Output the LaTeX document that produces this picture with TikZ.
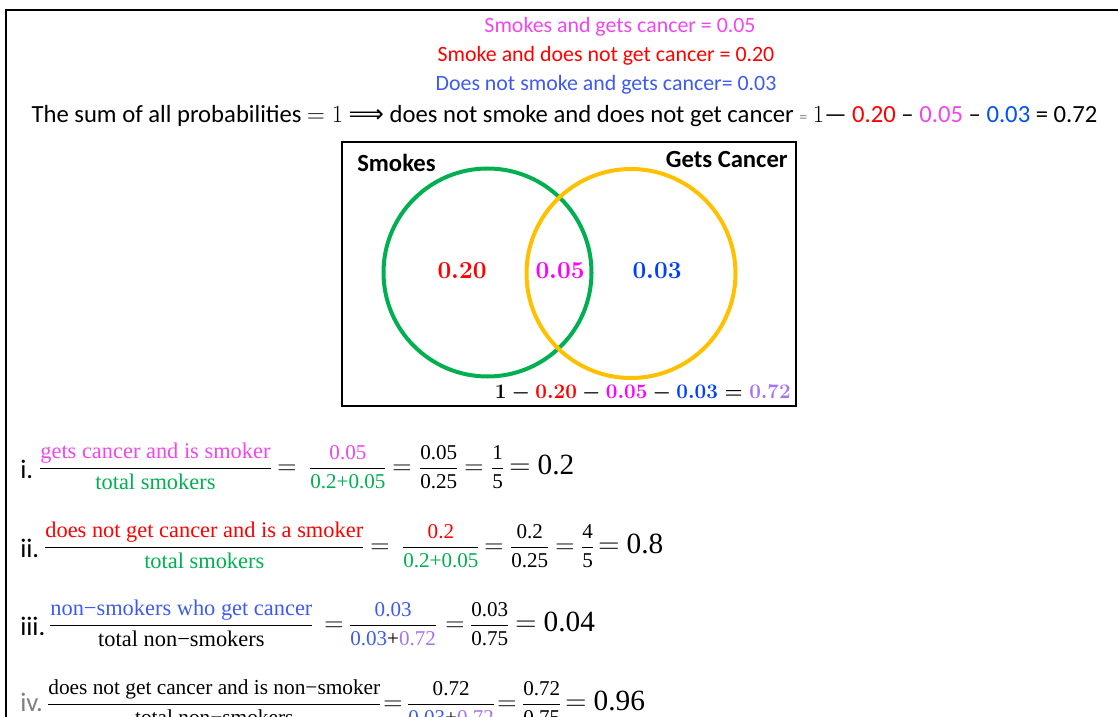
\RequirePackage{fix-cm}
\documentclass[tikz,border=0pt]{standalone}
\usepackage{amsmath}
\usepackage{fontspec}
\setmainfont{Carlito}
\newfontfamily\serifface{Liberation Serif}
\newfontfamily\symface{DejaVu Sans}
\usepackage{tikz}
\usetikzlibrary{positioning}
\definecolor{pinkish}{HTML}{F046F0}
\definecolor{vmag}{HTML}{FF00FF}
\definecolor{lineblue}{HTML}{3D5AF1}
\definecolor{vivblue}{HTML}{0050FF}
\definecolor{vblue}{HTML}{0040FF}
\definecolor{grn}{HTML}{00B050}
\definecolor{gold}{HTML}{FFC000}
\definecolor{lilac}{HTML}{A673F2}
\definecolor{eqgrey}{HTML}{8C8C8C}
\definecolor{labgrey}{HTML}{7F7F7F}
\newcommand{\probfrac}[2]{\genfrac{}{}{1.1pt}{0}{\text{#1}}{\text{#2}}}

\begin{document}
\begin{tikzpicture}[x=0.75pt,y=-0.75pt,
  headline/.style={font=\fontsize{#1}{20}\selectfont,inner sep=0pt},
  headline/.default=16.4,
  setname/.style={font=\bfseries\fontsize{18.5}{22}\selectfont,inner sep=0pt},
  region/.style={font=\fontsize{#1}{22}\selectfont\boldmath,inner sep=0pt},
  region/.default=18.3,
  ring/.style={line width=3pt},
  rowlabel/.style={font=\fontsize{20}{24}\selectfont,anchor=base west,inner sep=0pt},
  ratio/.style={font=\serifface\fontsize{#1}{20}\selectfont,anchor=base west,inner sep=0pt},
  ratio/.default=16.8,
  eqsign/.style={font=\fontsize{20}{24}\selectfont,anchor=base,inner sep=0pt},
  result/.style={font=\serifface\fontsize{22}{26}\selectfont,anchor=base west,inner sep=0pt}
]
\useasboundingbox (0,0) rectangle (1118,717);
\clip (0,0) rectangle (1118,717);
\draw[line width=1.5pt] (6,725) -- (6,10) -- (1125,10);

\node[headline,text=pinkish] (given1) at (620,27) {Smokes and gets cancer = 0.05};
\node[headline,text=red] (given2) at (606,56) {Smoke and does not get cancer = 0.20};
\node[headline,text=lineblue] (given3) at (606,85) {Does not smoke and gets cancer= 0.03};
\node[headline=18.5] (total) at (564.5,116) {The sum of all probabilities $=1$ {\symface ⟹} does not smoke and does not get cancer {\color{eqgrey}\fontsize{12}{14}\selectfont=} $1$— {\color{red}0.20} – {\color{pinkish}0.05} – {\color{vivblue}0.03} = 0.72};

\draw[line width=2.2pt] (342,142) rectangle (796,406);
\draw[ring,grn] (487.5,272.5) circle (104);
\draw[ring,gold] (631,273.5) circle (104.5);
\node[setname,anchor=west] (smokes) at (357,163) {Smokes};
\node[setname,anchor=east] (cancer) at (788,160) {Gets Cancer};
\node[region,text=red] (only) at (462,271) {$0.20$};
\node[region,text=vmag] (both) at (560,271) {$0.05$};
\node[region,text=vblue] (nonly) at (657,271) {$0.03$};
\node[region=15.5,anchor=east] (rest) at (791,393) {$1-{\color{red}0.20}-{\color{vmag}0.05}-{\color{vblue}0.03}={\color{lilac}0.72}$};

\node[rowlabel] (lab1) at (20,478) {i.};
\node[ratio] (q1a) at (38.5,474) {$\probfrac{\color{pinkish}gets cancer and is smoker}{\color{grn}total smokers}$};
\node[eqsign] (q1e1) at (287,474) {$=$};
\node[ratio=15.8] (q1b) at (308.5,474) {$\probfrac{\color{pinkish}0.05}{\color{grn}0.2+0.05}$};
\node[eqsign] (q1e2) at (402,474) {$=$};
\node[ratio=15.8] (q1c) at (418.5,474) {$\probfrac{0.05}{0.25}$};
\node[eqsign] (q1e3) at (474,474) {$=$};
\node[ratio=15.8] (q1d) at (490.5,474) {$\probfrac{1}{5}$};
\node[result] (q1r) at (509,474) {$=$ 0.2};

\node[rowlabel] (lab2) at (20,557) {ii.};
\node[ratio] (q2a) at (43.5,553) {$\probfrac{\color{red}does not get cancer and is a smoker}{\color{grn}total smokers}$};
\node[eqsign] (q2e1) at (380,553) {$=$};
\node[ratio=15.8] (q2b) at (401.5,553) {$\probfrac{\color{red}0.2}{\color{grn}0.2+0.05}$};
\node[eqsign] (q2e2) at (494,553) {$=$};
\node[ratio=15.8] (q2c) at (509.5,553) {$\probfrac{0.2}{0.25}$};
\node[eqsign] (q2e3) at (565,553) {$=$};
\node[ratio=15.8] (q2d) at (580.5,553) {$\probfrac{4}{5}$};
\node[result] (q2r) at (598,553) {$=$ 0.8};

\node[rowlabel] (lab3) at (20,635) {iii.};
\node[ratio] (q3a) at (48.5,631) {$\probfrac{\color{lineblue}non−smokers who get cancer}{total non−smokers}$};
\node[eqsign] (q3e1) at (334,631) {$=$};
\node[ratio=15.8] (q3b) at (348.5,631) {$\probfrac{\color{lineblue}0.03}{{\color{lineblue}0.03}+{\color{lilac}0.72}}$};
\node[eqsign] (q3e2) at (455,631) {$=$};
\node[ratio=15.8] (q3c) at (469.5,631) {$\probfrac{0.03}{0.75}$};
\node[result] (q3r) at (515,631) {$=$ 0.04};

\node[rowlabel,text=labgrey] (lab4) at (20,711) {iv.};
\node[ratio=16] (q4a) at (46.5,710) {$\probfrac{does not get cancer and is non−smoker}{total non−smokers}$};
\node[eqsign] (q4e1) at (393,710) {$=$};
\node[ratio=15.8] (q4b) at (406.5,710) {$\probfrac{0.72}{{\color{lineblue}0.03}+{\color{lilac}0.72}}$};
\node[eqsign] (q4e2) at (507,710) {$=$};
\node[ratio=15.8] (q4c) at (521.5,710) {$\probfrac{0.72}{0.75}$};
\node[result] (q4r) at (565,710) {$=$ 0.96};
\end{tikzpicture}
\end{document}
